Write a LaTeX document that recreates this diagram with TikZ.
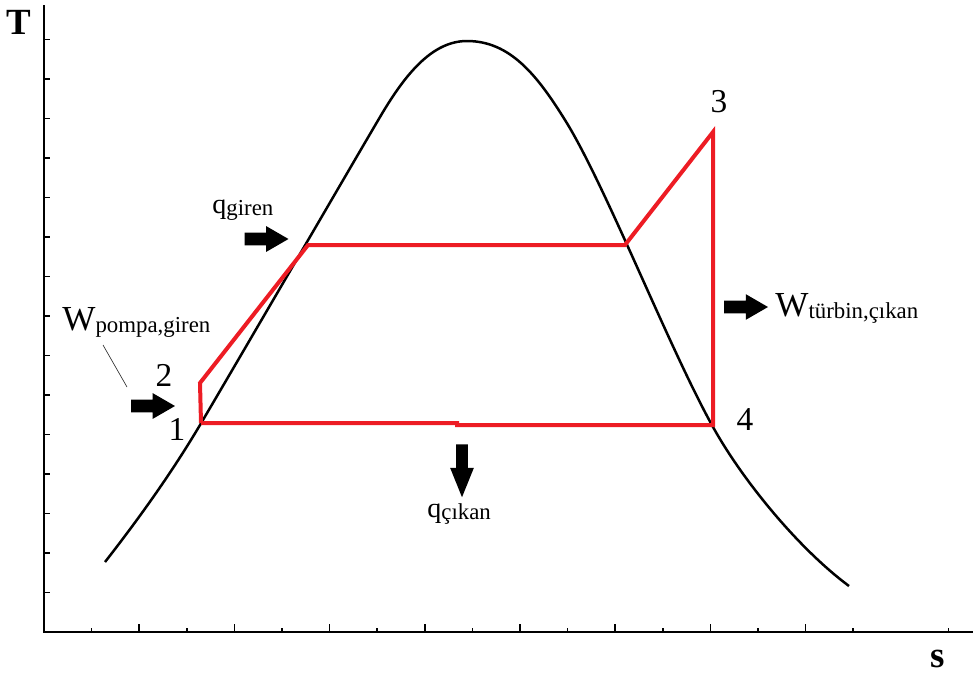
\documentclass[tikz,border=0pt]{standalone}
\usepackage{fontspec}
\setmainfont{Liberation Serif}
\usepackage{xcolor}
\usepackage{tikz}
\usetikzlibrary{positioning,shapes.arrows}
\definecolor{ink}{HTML}{000000}
\definecolor{cycRed}{HTML}{ED1C24}
\newcommand{\qsym}[1]{{\fontsize{16}{16}\selectfont q}\raisebox{-0.35ex}{\fontsize{13}{13}\selectfont #1}}
\newcommand{\wsym}[1]{{\fontsize{20}{20}\selectfont W}\raisebox{-0.25ex}{\fontsize{13}{13}\selectfont #1}}
\tikzset{
  fatarrow/.style={single arrow, fill=ink, draw=none, inner xsep=0pt, inner ysep=0.12cm,
    single arrow head extend=0.13cm, single arrow tip angle=60, single arrow head indent=0pt, minimum height=0.88cm},
  statenum/.style={font=\fontsize{19}{19}\selectfont, text=ink, inner sep=0pt, anchor=base},
  lbl/.style={inner sep=0pt, anchor=base west, text=ink},
  axislbl/.style={font=\fontsize{21}{21}\selectfont\bfseries, inner sep=0pt},
  axisline/.style={ink, line width=0.04cm},
  dome/.style={ink, line width=0.05cm, line join=round},
  cyc/.style={cycRed, line width=0.08cm, line join=miter},
}

\begin{document}
\begin{tikzpicture}[x=0.02cm, y=-0.02cm]
\useasboundingbox (0,0) rectangle (973,680);
% axes
\coordinate (O) at (44,632);
\draw[axisline] (44,5) -- (O) -- (973,632);
\foreach \k in {1,...,15}
  \draw[axisline, line width=0.03cm] (44,632-39.5*\k) -- ++(6,0);
\foreach \k in {1,...,17,19}{
  \pgfmathsetmacro{\tl}{isodd(\k) ? 4 : 8}
  \draw[axisline, line width=0.03cm] (44+47.6*\k,632) -- ++(0,-\tl);
}
\node[axislbl] (Tlbl) at (19,22) {T};
\node[axislbl] (slbl) at (938,659) {s};
% saturation dome
\draw[dome] (105,562) .. controls (137,521) and (171,474) .. (200,425)
  .. controls (260,323) and (340,185) .. (380,117)
  .. controls (405,74.5) and (432,41) .. (467,41)
  .. controls (510,41) and (537,75) .. (565,120)
  .. controls (605,184) and (668,346) .. (713,427)
  .. controls (743,481) and (799,549) .. (849,586);
% cycle
\coordinate (p1) at (201,423);
\coordinate (p2) at (200,383);
\coordinate (pf) at (308,245);
\coordinate (pg) at (625,245);
\coordinate (p3) at (713,132);
\coordinate (p4) at (713,425);
\coordinate (pstep) at (457,425);
\draw[cyc] (p1) -- (p2) -- (pf) -- (pg) -- (p3) -- (p4) -- (pstep) -- ++(0,-2) -- (p1);
\node[statenum] (n1) at (177,440) {1};
\node[statenum] (n2) at (164,386) {2};
\node[statenum] (n3) at (719,112) {3};
\node[statenum] (n4) at (745,430) {4};
% heat and work
\node[fatarrow] (qin) at (261,239) {};
\node[lbl] (qinlbl) at (212,213) {\qsym{giren}};
\node[fatarrow] (wpin) at (147.5,406) {};
\node[lbl] (wpinlbl) at (62,330) {\wsym{pompa,giren}};
\coordinate (leadA) at (103,345);
\coordinate (leadB) at (127,387);
\draw[ink, line width=0.3pt] (leadA) -- (leadB);
\node[fatarrow] (wtout) at (740.5,307) {};
\node[lbl] (wtoutlbl) at (775,316) {\wsym{türbin,çıkan}};
\node[fatarrow, shape border rotate=270, minimum height=1.06cm, inner xsep=0.11cm, inner ysep=0pt,
  single arrow head extend=0.12cm, single arrow tip angle=44] (qout) at (462,463.5) {};
\node[lbl] (qoutlbl) at (427,517) {\qsym{çıkan}};
\end{tikzpicture}
\end{document}
